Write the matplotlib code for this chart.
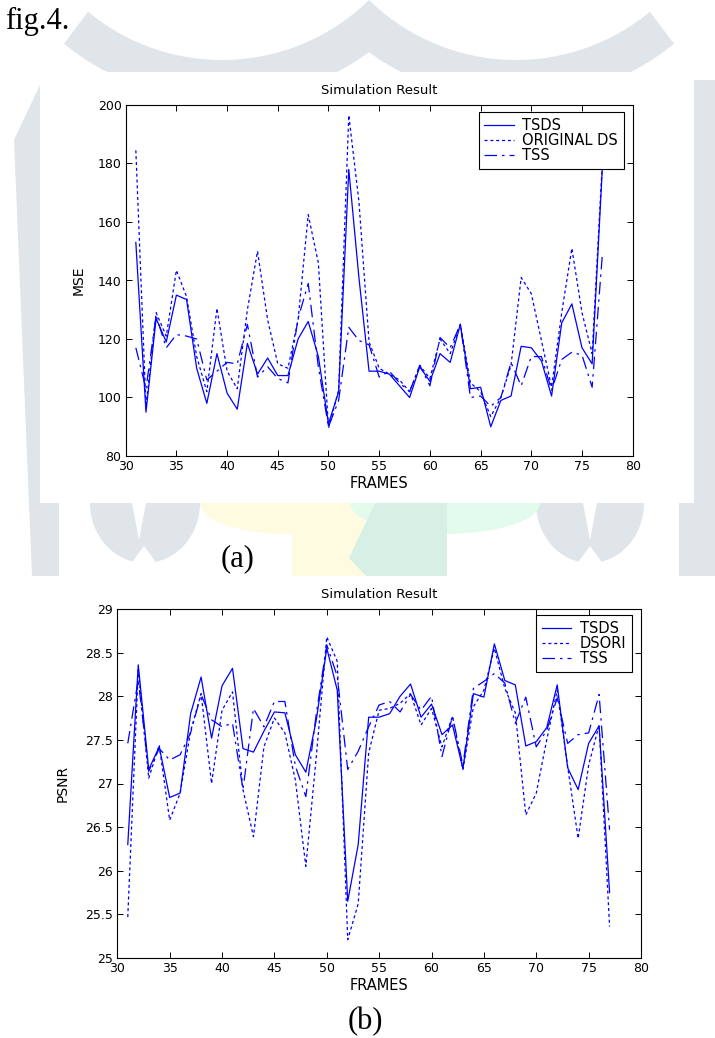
import numpy as np
import matplotlib
matplotlib.use("Agg")
import matplotlib.pyplot as plt
from matplotlib.patches import Polygon, Rectangle, Ellipse

plt.rcParams['font.family'] = ['DejaVu Sans']
plt.rcParams['lines.scale_dashes'] = False

# frames on the x axis
frames = np.arange(31, 78)

# (a) MSE per frame
mse_tsds = [153, 95, 127, 119, 135, 133.5, 110, 98, 115, 101.5,
            96, 118.5, 108, 113.5, 107.5, 107.5, 120, 126, 114, 91,
            102, 178, 141, 109, 109, 108, 104, 100, 110.5, 105.5,
            115, 112, 125, 103, 103.5, 90, 99, 100.5, 117.5, 117,
            112.5, 100.5, 125.5, 132, 117, 111.5, 178]
mse_ods = [184.5, 97, 129, 121, 143.5, 134.5, 114, 102, 130.5, 109,
           103, 130, 150, 126.5, 111.5, 110, 126.5, 162.5, 146, 89.5,
           102.5, 196.5, 167, 119, 110, 108, 106, 102, 111, 106.5,
           120, 115, 125, 105, 102, 93.5, 100, 111, 141, 135.5,
           119.5, 103.5, 129, 151, 129, 115, 180]
mse_tss = [117, 103, 128, 117, 121.5, 121, 120, 106, 109, 112,
           111.5, 125, 107, 110.5, 106.5, 105, 127, 139, 110.5, 90,
           99, 124, 119.5, 118, 107, 109, 105, 102, 111, 104,
           120.5, 117, 125, 100, 100.5, 97, 100, 112, 104, 114,
           114, 102.5, 113, 115.5, 114.5, 103.5, 148.5]

# (b) PSNR per frame
psnr_tsds = [26.3, 28.36, 27.16, 27.42, 26.84, 26.89, 27.8, 28.22, 27.52, 28.12,
             28.32, 27.4, 27.36, 27.6, 27.82, 27.81, 27.33, 27.13, 27.73, 28.55,
             28.07, 25.65, 26.3, 27.76, 27.76, 27.8, 28.0, 28.14, 27.76, 27.91,
             27.56, 27.67, 27.17, 28.03, 27.99, 28.6, 28.18, 28.13, 27.43, 27.48,
             27.64, 28.13, 27.18, 26.93, 27.46, 27.66, 25.75]
psnr_dsori = [25.47, 28.3, 27.06, 27.44, 26.58, 26.89, 27.6, 28.03, 27.0, 27.84,
              28.05, 26.93, 26.39, 27.42, 27.75, 27.58, 27.04, 26.05, 27.31, 28.68,
              28.4, 25.21, 25.62, 27.35, 27.84, 27.86, 27.92, 28.03, 27.67, 27.86,
              27.42, 27.77, 27.16, 27.88, 28.07, 28.55, 28.09, 27.81, 26.64, 26.89,
              27.5, 28.07, 27.19, 26.37, 27.21, 27.67, 25.36]
psnr_tss = [27.46, 28.19, 27.14, 27.4, 27.27, 27.33, 27.58, 28.02, 27.73, 27.65,
            27.69, 26.93, 27.86, 27.65, 27.94, 27.94, 27.2, 26.85, 27.8, 28.59,
            28.23, 27.16, 27.37, 27.65, 27.9, 27.94, 27.82, 28.02, 27.84, 28.0,
            27.31, 27.77, 27.21, 28.09, 28.17, 28.26, 28.15, 27.69, 27.99, 27.42,
            27.61, 27.98, 27.46, 27.56, 27.58, 28.02, 26.47]

x_ticks = [30, 35, 40, 45, 50, 55, 60, 65, 70, 75, 80]
mse_ticks = [80, 100, 120, 140, 160, 180, 200]
psnr_ticks = [25, 25.5, 26, 26.5, 27, 27.5, 28, 28.5, 29]
psnr_tick_labels = ['25', '25.5', '26', '26.5', '27', '27.5', '28', '28.5', '29']

W, H = 715, 1038
BLUE = '#0000ff'
GRAY = '#dfe5e8'

fig = plt.figure(figsize=(W / 100, H / 100), dpi=100)
fig.patch.set_facecolor('white')

# background layer in pixel coordinates (watermark + white panels)
bg = fig.add_axes([0, 0, 1, 1], zorder=0)
bg.set_xlim(0, W)
bg.set_ylim(H, 0)
bg.axis('off')


def arc_band(cx, cy, r_in, r_out, xi0, xi1, xo0, xo1):
    xi = np.linspace(xi0, xi1, 80)
    xo = np.linspace(xo0, xo1, 80)
    yi = cy + np.sqrt(np.clip(r_in ** 2 - (xi - cx) ** 2, 0, None))
    yo = cy + np.sqrt(np.clip(r_out ** 2 - (xo - cx) ** 2, 0, None))
    pts = list(zip(xi, yi)) + list(zip(xo[::-1], yo[::-1]))
    return Polygon(pts, closed=True, fc=GRAY, ec='none')


bg.add_patch(arc_band(222, -150, 210, 250, 88, 369, 64, 369))
bg.add_patch(arc_band(516, -150, 210, 250, 369, 650, 369, 674))
# side bars
bg.add_patch(Polygon([(14, 140), (40, 85), (40, 503), (59, 503), (59, 576), (32, 576)],
                     fc=GRAY, ec='none'))
bg.add_patch(Polygon([(694, 80), (715, 80), (715, 576), (679, 576), (679, 503), (694, 503)],
                     fc=GRAY, ec='none'))
# tulip shapes between the panels
bg.add_patch(Ellipse((145, 503), 110, 120, fc=GRAY, ec='none'))
bg.add_patch(Polygon([(132, 503), (146, 503), (139, 540)], fc='white', ec='none'))
bg.add_patch(Polygon([(122, 576), (166, 576), (144, 546)], fc='white', ec='none'))
bg.add_patch(Ellipse((590, 503), 108, 120, fc=GRAY, ec='none'))
bg.add_patch(Polygon([(583, 503), (597, 503), (590, 540)], fc='white', ec='none'))
bg.add_patch(Polygon([(568, 576), (612, 576), (590, 546)], fc='white', ec='none'))
# coloured logo pieces
bg.add_patch(Ellipse((285, 503), 170, 62, fc='#fffbe0', ec='none'))
bg.add_patch(Rectangle((292, 503), 73, 73, fc='#fffbe0', ec='none'))
bg.add_patch(Ellipse((445, 503), 190, 62, fc='#e2fbed', ec='none'))
bg.add_patch(Polygon([(375, 503), (447, 503), (447, 576), (366, 576), (349, 558)],
                     fc='#d8efe5', ec='none'))
# white panels behind the plots
bg.add_patch(Rectangle((40, 72), 654, 431, fc='white', ec='none'))
bg.add_patch(Rectangle((0, 576), W, H - 576, fc='white', ec='none'))

bg.text(5, 29, 'fig.4.', family='Liberation Serif', fontsize=22, va='baseline', ha='left')
bg.text(238, 559, '(a)', family='Liberation Serif', fontsize=22, va='center', ha='center')
bg.text(365, 1022, '(b)', family='Liberation Serif', fontsize=22, va='center', ha='center')


def px_axes(l, t, r, b):
    return fig.add_axes([l / W, 1 - b / H, (r - l) / W, (b - t) / H], zorder=2)


def style_axes(ax):
    ax.set_facecolor('white')
    for s in ax.spines.values():
        s.set_linewidth(0.8)
        s.set_color('black')
    ax.tick_params(direction='in', top=True, right=True, length=4, width=0.7,
                   labelsize=9, pad=3)
    ax.set_xlim(30, 80)
    ax.set_xticks(x_ticks)
    ax.set_xlabel('FRAMES', fontsize=10.5, labelpad=2)
    ax.set_title('Simulation Result', fontsize=9.5, pad=8)


def draw_lines(ax, s1, s2, s3, labels):
    l1, = ax.plot(frames, s1, color=BLUE, lw=0.9, label=labels[0])
    l2, = ax.plot(frames, s2, color=BLUE, lw=0.9, label=labels[1])
    l2.set_dashes((2.2, 2.0))
    l3, = ax.plot(frames, s3, color=BLUE, lw=0.9, label=labels[2])
    l3.set_dashes((9, 3.6, 1.8, 3.6))
    return [l1, l2, l3]


def add_legend(ax, handles, right, top):
    leg = ax.legend(handles=handles, loc='upper right', bbox_to_anchor=(right, top),
                    bbox_transform=bg.transData, fontsize=10.5, frameon=True,
                    fancybox=False, shadow=False, framealpha=1, borderaxespad=0,
                    borderpad=0.4, labelspacing=0.0, handlelength=2.0,
                    handletextpad=0.6)
    leg.get_frame().set_edgecolor('black')
    leg.get_frame().set_linewidth(0.8)


# (a) MSE
ax1 = px_axes(125.7, 105, 632.7, 456)
style_axes(ax1)
h = draw_lines(ax1, mse_tsds, mse_ods, mse_tss, ['TSDS', 'ORIGINAL DS', 'TSS'])
ax1.set_ylim(80, 200)
ax1.set_yticks(mse_ticks)
ax1.set_ylabel('MSE', fontsize=10, labelpad=9)
add_legend(ax1, h, 624, 112)

# (b) PSNR
ax2 = px_axes(117.3, 609, 641, 958)
style_axes(ax2)
h = draw_lines(ax2, psnr_tsds, psnr_dsori, psnr_tss, ['TSDS', 'DSORI', 'TSS'])
ax2.set_ylim(25, 29)
ax2.set_yticks(psnr_ticks)
ax2.set_yticklabels(psnr_tick_labels)
ax2.set_ylabel('PSNR', fontsize=10, labelpad=11)
add_legend(ax2, h, 632, 615)

fig.savefig('out.png', dpi=100)
